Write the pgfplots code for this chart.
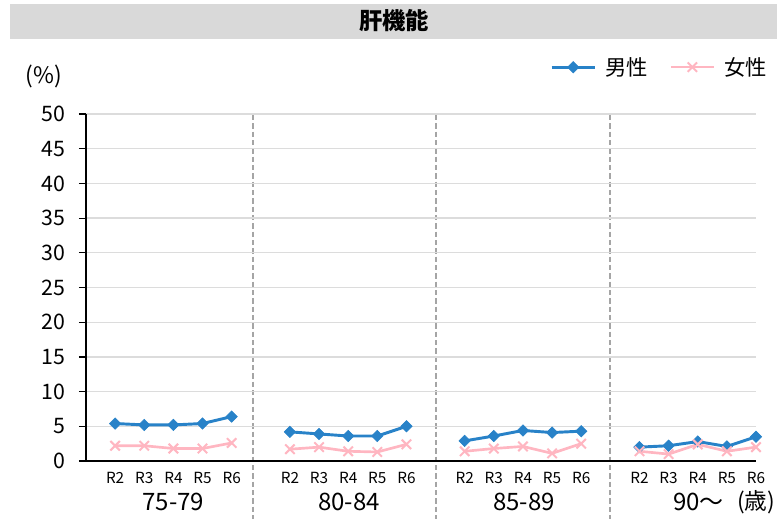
\documentclass[border=0pt]{standalone}
\usepackage{fontspec}
\setmainfont{Noto Sans CJK JP}
\usepackage{pgfplots}
\pgfplotsset{compat=1.18}
\definecolor{maleblue}{RGB}{40,130,200}
\definecolor{femalepink}{RGB}{255,182,193}
\definecolor{bandgray}{RGB}{217,217,217}
\definecolor{gridgray}{RGB}{220,220,220}
\definecolor{sepgray}{RGB}{165,165,165}

\begin{document}
\begin{tikzpicture}
\useasboundingbox (0,0) rectangle (582.75pt,389.25pt);
% 1 px = 0.75pt, y counted from the bottom
\begin{scope}[x=0.75pt,y=0.75pt]
  \fill[bandgray] (10,480) rectangle (777,515);
  \node[font=\bfseries\fontsize{17.5}{20}\selectfont] at (394,498) {肝機能};
  \node[font=\fontsize{17}{20}\selectfont] at (44,443) {(\%)};
  \foreach \xx in {253,436,610}
    \draw[sepgray, line width=1.3pt, dash pattern=on 4pt off 2.25pt] (\xx,404) -- (\xx,0);
  \node[font=\fontsize{18}{21}\selectfont] at (173.3,17) {75-79};
  \node[font=\fontsize{18}{21}\selectfont] at (349,17) {80-84};
  \node[font=\fontsize{18}{21}\selectfont] at (524,17) {85-89};
  \node[font=\fontsize{18}{21}\selectfont, anchor=west, inner sep=0pt] at (673,17) {90～};
  \node[font=\fontsize{17}{20}\selectfont, anchor=west, inner sep=0pt] at (737,17) {(歳)};
\end{scope}

\begin{axis}[
  at={(64.5pt,43.5pt)}, anchor=south west,
  scale only axis, width=502.5pt, height=260.25pt,
  xmin=0, xmax=23, ymin=0, ymax=50,
  axis x line=bottom, axis y line=left,
  x axis line style={-, line width=1.5pt},
  y axis line style={-, line width=0.9pt},
  ytick={0,5,...,50},
  ymajorgrids, grid style={gridgray, line width=1pt},
  xtick={1,2,3,4,5,7,8,9,10,11,13,14,15,16,17,19,20,21,22,23},
  xticklabels={R2,R3,R4,R5,R6,R2,R3,R4,R5,R6,R2,R3,R4,R5,R6,R2,R3,R4,R5,R6},
  x tick style={draw=none},
  y tick style={black, line width=0.9pt},
  tick align=outside, major tick length=5.25pt,
  yticklabel style={font=\fontsize{16}{18}\selectfont, xshift=-6.5pt},
  xticklabel style={font=\fontsize{11.5}{13}\selectfont},
  /pgf/number format/assume math mode=true,
  unbounded coords=jump,
  legend columns=2,
  legend style={at={(0.6925,1.135)}, anchor=west, draw=none, fill=none,
    inner sep=0pt, font=\fontsize{16}{19}\selectfont,
    /tikz/every odd column/.append style={column sep=5pt},
    /tikz/every even column/.append style={column sep=14pt}},
  legend image code/.code={
    \draw[mark repeat=2,mark phase=2,#1] plot coordinates {(0pt,0pt) (16.125pt,0pt) (32.25pt,0pt)};},
]
\addplot[maleblue, line width=2.2pt, mark=square*, mark size=3pt,
  mark options={rotate=45, solid, fill=maleblue, line width=0.5pt}]
  coordinates {
  (1,5.4) (2,5.2) (3,5.2) (4,5.4) (5,6.4) (6,nan)
  (7,4.2) (8,3.9) (9,3.6) (10,3.6) (11,5.0) (12,nan)
  (13,2.9) (14,3.6) (15,4.4) (16,4.1) (17,4.3) (18,nan)
  (19,2.0) (20,2.2) (21,2.8) (22,2.1) (23,3.5)
  };
\addlegendentry{男性}
\addplot[femalepink, line width=2pt, mark=x, mark size=5pt,
  mark options={solid, line width=1.5pt}]
  coordinates {
  (1,2.2) (2,2.2) (3,1.8) (4,1.8) (5,2.6) (6,nan)
  (7,1.7) (8,2.0) (9,1.4) (10,1.3) (11,2.4) (12,nan)
  (13,1.4) (14,1.8) (15,2.1) (16,1.1) (17,2.5) (18,nan)
  (19,1.4) (20,1.0) (21,2.4) (22,1.4) (23,2.0)
  };
\addlegendentry{女性}
\end{axis}
\end{tikzpicture}
\end{document}
